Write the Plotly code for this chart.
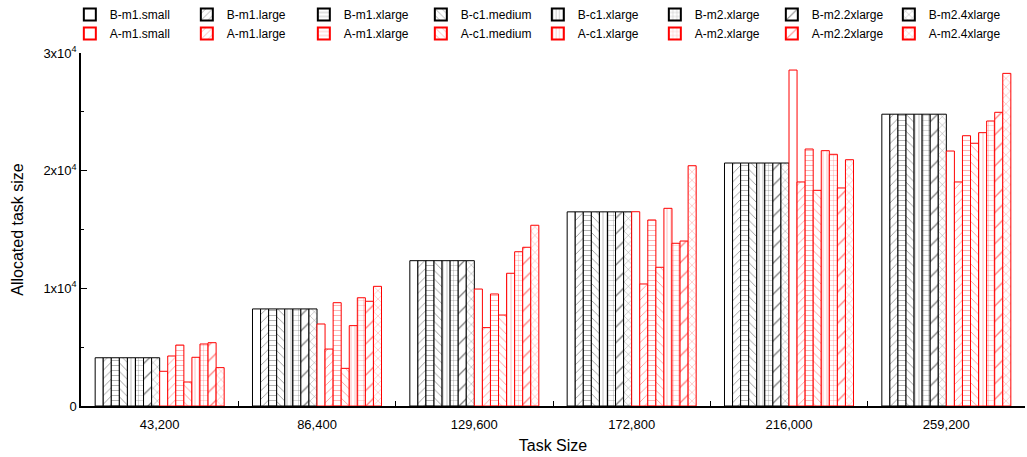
import plotly.graph_objects as go

categories = ["43,200", "86,400", "129,600", "172,800", "216,000", "259,200"]
series_names = ["m1.small", "m1.large", "m1.xlarge", "c1.medium",
                "c1.xlarge", "m2.xlarge", "m2.2xlarge", "m2.4xlarge"]

# Baseline (B) allocation: equal for every instance type within a group
b_values = [4100, 8250, 12350, 16500, 20650, 24800]

# Adaptive (A) allocation per instance type
a_m1_small = [2950, 6970, 9940, 16510, 28550, 21670]
a_m1_large = [4250, 4840, 6660, 10370, 19040, 19040]
a_m1_xlarge = [5180, 8780, 9520, 15810, 21840, 22970]
a_c1_medium = [2040, 3200, 7730, 11790, 18330, 22330]
a_c1_xlarge = [4140, 6830, 11280, 16800, 21700, 23230]
a_m2_xlarge = [5270, 9200, 13110, 13830, 21390, 24220]
a_m2_2xlarge = [5380, 8900, 13490, 14020, 18530, 24960]
a_m2_4xlarge = [3260, 10170, 15360, 20420, 20930, 28270]

a_values = [a_m1_small, a_m1_large, a_m1_xlarge, a_c1_medium,
            a_c1_xlarge, a_m2_xlarge, a_m2_2xlarge, a_m2_4xlarge]

patterns = [("", 8), ("/", 6), ("-", 5), ("\\", 6),
            ("|", 4), ("+", 5), ("/", 11), ("x", 6)]

y_tickvals = [0, 10000, 20000, 30000]
y_ticktext = ["0", "1x10<sup>4</sup>", "2x10<sup>4</sup>", "3x10<sup>4</sup>"]

fig = go.Figure()

def add(prefix, values, color):
    for name, vals, (shape, size) in zip(series_names, values, patterns):
        fig.add_trace(go.Bar(
            name=f"{prefix}-{name}", x=categories, y=vals,
            marker=dict(color="white", line=dict(color=color, width=1),
                        pattern=dict(shape=shape, size=size, solidity=0.12,
                                     fgcolor=color, bgcolor="white")),
        ))

add("B", [b_values] * 8, "black")
add("A", a_values, "red")

font = "Liberation Sans, Arial, sans-serif"
fig.update_layout(
    width=1027, height=457,
    margin=dict(l=81, r=2, t=53, b=51, autoexpand=False),
    barmode="group", bargap=0.18, bargroupgap=0,
    plot_bgcolor="white", paper_bgcolor="white",
    font=dict(family=font, size=13, color="black"),
    legend=dict(orientation="h", xref="container", x=0.068, xanchor="left",
                yref="container", y=1.0, yanchor="top",
                entrywidth=72, entrywidthmode="pixels",
                font=dict(size=12), itemsizing="constant",
                bgcolor="rgba(0,0,0,0)", tracegroupgap=0),
    xaxis=dict(title=dict(text="Task Size", font=dict(size=16), standoff=8),
               showline=True, linecolor="black", linewidth=1.5,
               ticks="inside", tickson="boundaries", ticklen=5,
               ticklabelstandoff=6,
               tickcolor="black", showgrid=False, range=[-0.5, 5.5]),
    yaxis=dict(title=dict(text="Allocated task size", font=dict(size=16), standoff=16),
               range=[0, 30000], tickvals=y_tickvals, ticktext=y_ticktext,
               showline=True, linecolor="black", linewidth=1.5,
               ticks="inside", ticklen=6, tickcolor="black", showgrid=False,
               zeroline=False,
               minor=dict(ticks="inside", dtick=5000, ticklen=3, tickcolor="black")),
)

fig.write_html("out.html")
